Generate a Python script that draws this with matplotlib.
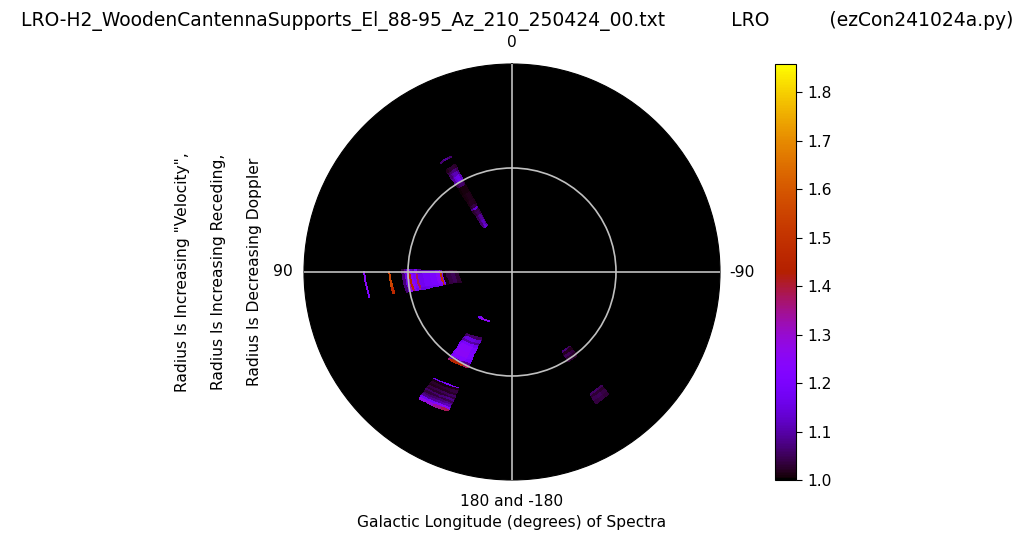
import numpy as np
import matplotlib
matplotlib.use("Agg")
import matplotlib.pyplot as plt

TITLE = "LRO-H2_WoodenCantennaSupports_El_88-95_Az_210_250424_00.txt           LRO          (ezCon241024a.py)"
YLABEL = 'Radius Is Increasing "Velocity",\n\nRadius Is Increasing Receding,\n\nRadius Is Decreasing Doppler'
XLABEL = "Galactic Longitude (degrees) of Spectra"
theta_ticks = [0, 90, 180, 270]
theta_labels = ["0", "90", "180 and -180", "-90"]
vmin = 1.0
vmax = 1.858
cbar_ticks = [1.0, 1.1, 1.2, 1.3, 1.4, 1.5, 1.6, 1.7, 1.8]

# Upper block (lon 28-33)
a_lons = [27.8, 28.8, 30.0, 31.2, 32.2, 33.0]
a_shift = [0.0, 0.0, 0.0, 0.0, 0.0, 0.0]
a_fade = [0.7, 1.0, 1.0, 0.85, 0.55]
a_radii = [0.50, 0.53, 0.58, 0.64, 0.68, 0.70, 0.72, 0.75, 0.80, 0.88, 0.96, 1.00, 1.03, 1.07, 1.11, 1.14, 1.17]
a_vals = [1.14, 1.12, 1.09, 1.05, 1.04, 1.14, 1.04, 1.02, 1.015, 1.01, 1.06, 1.17, 1.16, 1.11, 1.07, 1.03]
# Thin arc above upper block
a2_lons = [27.5, 29.5, 31.5, 33.5]
a2_shift = [0.0, 0.0, 0.0, 0.0]
a2_fade = [0.7, 1.0, 0.7]
a2_radii = [1.25, 1.262]
a2_vals = [1.09]

# Main block near lon 90-101
b_lons = [88.5, 89.5, 91.0, 94.0, 97.0, 100.0, 101.0]
b_shift = [0.006, 0.003, 0.0, -0.008, -0.016, -0.024, -0.026]
b_fade = [0.5, 0.85, 1.0, 1.0, 1.0, 0.85]
b_radii = [0.52, 0.56, 0.60, 0.64, 0.67, 0.685, 0.70, 0.74, 0.80, 0.87, 0.915, 0.935, 0.96, 0.98, 1.00, 1.02, 1.04, 1.06]
b_vals = [1.03, 1.05, 1.04, 1.01, 1.20, 1.50, 1.24, 1.20, 1.19, 1.17, 1.38, 1.20, 1.24, 1.45, 1.30, 1.16, 1.07]

# Thin arcs at the same longitudes
b2_lons = [89.5, 91.0, 94.0, 97.0, 100.5]
b2_shift = [0.006, 0.0, -0.008, -0.016, -0.026]
b2_fade = [1.0, 1.0, 1.0, 0.85]
b2_radii = [1.172, 1.185]
b2_vals = [1.55]
b3_radii = [1.412, 1.424]
b3_vals = [1.25]

# Lower-left block
c_lons = [143.8, 144.8, 146.5, 149.5, 152.5, 155.5]
c_shift = [0.0, -0.002, -0.005, -0.012, -0.02, -0.03]
c_fade = [0.8, 1.0, 1.0, 1.0, 0.85]
c_radii = [0.73, 0.76, 0.79, 0.81, 0.84, 0.90, 0.96, 1.00, 1.022, 1.04]
c_vals = [1.06, 1.15, 1.10, 1.20, 1.24, 1.25, 1.22, 1.10, 1.45]

c2_lons = [143.0, 146.5, 149.5, 152.5, 156.0]
c2_shift = [0.0, -0.003, -0.006, -0.01, -0.012]
c2_fade = [0.7, 1.0, 1.0, 0.9]
c2_radii = [0.527, 0.54]
c2_vals = [1.27]

# Far lower-left block
d_lons = [143.6, 146.5, 149.5, 152.5, 155.5]
d_shift = [0.0, -0.01, -0.02, -0.03, -0.04]
d_fade = [0.8, 0.85, 1.0, 1.12]
d_radii = [1.262, 1.276, 1.30, 1.33, 1.35, 1.37, 1.39, 1.41, 1.43, 1.45, 1.475, 1.497, 1.513]
d_vals = [1.20, 1.01, 1.03, 1.02, 1.05, 1.03, 1.07, 1.04, 1.07, 1.10, 1.22, 1.34]

# Lower-right dim blocks
e_lons = [-148.0, -146.0, -144.0, -142.0]
e_shift = [0.0, 0.0, 0.0, 0.0]
e_fade = [1.0, 1.0, 0.7]
e_radii = [0.90, 0.92, 0.95, 0.98, 1.02]
e_vals = [1.07, 1.02, 1.05, 1.03]

f_lons = [-147.5, -145.5, -143.5, -141.5]
f_shift = [0.0, 0.0, 0.0, 0.0]
f_fade = [0.9, 1.0, 0.8]
f_radii = [1.39, 1.41, 1.44, 1.47, 1.50]
f_vals = [1.06, 1.03, 1.05, 1.04]

blocks = [
    (a_lons, a_shift, a_fade, a_radii, a_vals), (a2_lons, a2_shift, a2_fade, a2_radii, a2_vals),
    (b_lons, b_shift, b_fade, b_radii, b_vals), (b2_lons, b2_shift, b2_fade, b2_radii, b2_vals),
    (b2_lons, b2_shift, b2_fade, b3_radii, b3_vals), (c_lons, c_shift, c_fade, c_radii, c_vals),
    (c2_lons, c2_shift, c2_fade, c2_radii, c2_vals), (d_lons, d_shift, d_fade, d_radii, d_vals),
    (e_lons, e_shift, e_fade, e_radii, e_vals), (f_lons, f_shift, f_fade, f_radii, f_vals),
]

W, H = 1024, 542
fig = plt.figure(figsize=(W / 100, H / 100), dpi=100)
fs = 11.2
ax = fig.add_axes([(512 - 208) / W, 1 - (272 + 208) / H, 416 / W, 416 / H], projection="polar")
ax.set_theta_zero_location("N")
ax.set_theta_direction(1)
ax.set_facecolor("black")

mesh = None
for lons, shift, fade, radii, vals in blocks:
    T, R = np.meshgrid(np.radians(lons), radii)
    R = R + np.array(shift)
    Z = 1 + np.outer(np.array(vals) - 1, fade)
    mesh = ax.pcolormesh(T, R, Z, cmap="gnuplot", vmin=vmin, vmax=vmax, shading="flat",
                         antialiased=False, edgecolors="none")

ax.set_rlim(0, 2)
ax.set_rticks([1])
ax.set_yticklabels([])
ax.set_thetagrids(theta_ticks, theta_labels, fontsize=fs)
ax.tick_params(axis="x", pad=5.0)
ax.grid(True, color="#c0c0c0", lw=1.2)
ax.set_axisbelow(False)
ax.set_xlabel(XLABEL, fontsize=fs)
ax.xaxis.set_label_coords(0.5, -0.083)
ax.set_ylabel(YLABEL, fontsize=fs, linespacing=1.25)
ax.yaxis.set_label_coords(-0.101, 0.5)
fig.text(517.5 / W, 1 - 21 / H, TITLE, fontsize=13.47, ha="center", va="center")

cax = fig.add_axes([775 / W, 1 - 480 / H, 21 / W, 416 / H])
cb = fig.colorbar(mesh, cax=cax, ticks=cbar_ticks)
cb.ax.tick_params(labelsize=fs, length=4.5)
cb.ax.set_yticklabels([f"{t:.1f}" for t in cbar_ticks])
fig.savefig("out.png", dpi=100)
